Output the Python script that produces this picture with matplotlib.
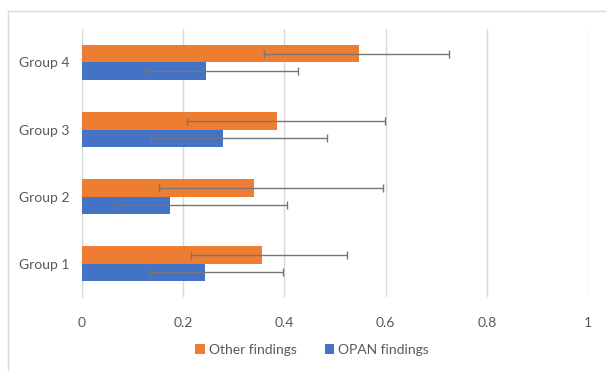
# plot.py
# Gráfico de barras horizontales con barras de error asimétricas

import matplotlib
matplotlib.use("Agg")
import matplotlib.pyplot as plt
from matplotlib.lines import Line2D
import numpy as np

plt.rcParams["font.family"] = ["Lato", "DejaVu Sans"]

grupos = ["Group 1", "Group 2", "Group 3", "Group 4"]

# Other findings (naranja)
otros = [0.356, 0.340, 0.385, 0.548]
otros_inf = [0.216, 0.153, 0.208, 0.359]
otros_sup = [0.523, 0.595, 0.599, 0.725]

# OPAN findings (azul)
opan = [0.243, 0.173, 0.279, 0.245]
opan_inf = [0.134, 0.062, 0.137, 0.126]
opan_sup = [0.398, 0.405, 0.485, 0.426]

ticks_x = [0, 0.2, 0.4, 0.6, 0.8, 1]
etiquetas_x = ["0", "0.2", "0.4", "0.6", "0.8", "1"]

NARANJA = "#ED7D31"
AZUL = "#4472C4"
GRIS = "#595959"

fig = plt.figure(figsize=(6.06, 3.71), dpi=100)
ax = fig.add_axes([0.1353, 0.199, 0.835, 0.723])

y = np.arange(len(grupos))
alto = 0.258

err_otros = [np.array(otros) - np.array(otros_inf), np.array(otros_sup) - np.array(otros)]
err_opan = [np.array(opan) - np.array(opan_inf), np.array(opan_sup) - np.array(opan)]

ax.barh(y + alto / 2, otros, height=alto, color=NARANJA, label="Other findings", zorder=2)
ax.barh(y - alto / 2, opan, height=alto, color=AZUL, label="OPAN findings", zorder=2)
ax.errorbar(otros, y + alto / 2, xerr=err_otros, fmt="none", ecolor="#767676",
            elinewidth=1.0, capsize=3, capthick=1.0, zorder=3)
ax.errorbar(opan, y - alto / 2, xerr=err_opan, fmt="none", ecolor="#767676",
            elinewidth=1.0, capsize=3, capthick=1.0, zorder=3)

ax.set_xlim(0, 1)
ax.set_ylim(-0.5, 3.5)
ax.set_xticks(ticks_x)
ax.set_xticklabels(etiquetas_x)
ax.set_yticks(y)
ax.set_yticklabels(grupos)
ax.tick_params(axis="both", length=0, labelsize=10, colors=GRIS)
ax.tick_params(axis="x", pad=14)
ax.tick_params(axis="y", pad=9)
ax.grid(axis="x", color="#d9d9d9", linewidth=1.0, zorder=0)
for lado in ["top", "right", "bottom"]:
    ax.spines[lado].set_visible(False)
ax.spines["left"].set_color("#d9d9d9")
ax.spines["left"].set_zorder(1)

leg = fig.legend(loc="center", bbox_to_anchor=(0.515, 0.057), ncol=2, frameon=False,
                 fontsize=10, handlelength=0.7, handleheight=0.7, handletextpad=0.3,
                 columnspacing=2.0)
for t in leg.get_texts():
    t.set_color(GRIS)

# borde del área del gráfico
fig.add_artist(Line2D([8 / 606, 1], [1 - 11 / 371, 1 - 11 / 371], color="#d9d9d9",
                      linewidth=1.0, transform=fig.transFigure))
fig.add_artist(Line2D([8 / 606, 8 / 606], [0, 1 - 11 / 371], color="#d9d9d9",
                      linewidth=1.0, transform=fig.transFigure))

fig.savefig("out.png", dpi=100)
plt.close(fig)
